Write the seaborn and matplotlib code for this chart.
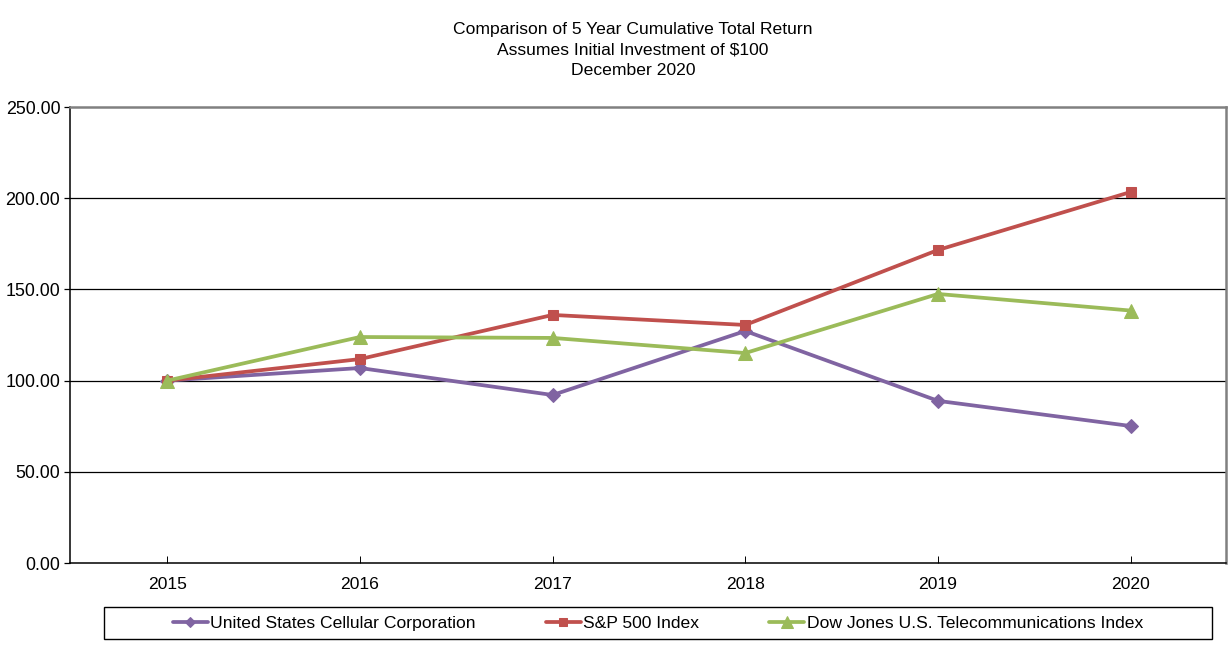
import pandas as pd
import numpy as np
import matplotlib
matplotlib.use("Agg")
import matplotlib.pyplot as plt
import seaborn as sns
from matplotlib.patches import Rectangle

# ------------------------------------------------------------
# data
# ------------------------------------------------------------
years = [2015, 2016, 2017, 2018, 2019, 2020]
usm = [100.00, 106.9, 92.1, 127.2, 88.9, 75.1]
sp500 = [100.00, 111.8, 136.0, 130.5, 171.6, 203.4]
dj_telecom = [100.00, 123.9, 123.4, 115.1, 147.5, 138.4]

series_names = [
    "United States Cellular Corporation",
    "S&P 500 Index",
    "Dow Jones U.S. Telecommunications Index",
]
series_values = [usm, sp500, dj_telecom]
y_ticks = [0, 50, 100, 150, 200, 250]

colors = ["#8064A2", "#C0504D", "#9BBB59"]
markers = ["D", "s", "^"]
marker_sizes = [7, 7.5, 10]

df = pd.concat(
    [pd.DataFrame({"year": years, "value": vals, "series": name})
     for name, vals in zip(series_names, series_values)],
    ignore_index=True,
)

# ------------------------------------------------------------
# figure
# ------------------------------------------------------------
sns.set_style("white")
plt.rcParams["font.family"] = ["Liberation Sans", "DejaVu Sans"]
plt.rcParams["text.color"] = "black"
plt.rcParams["xtick.color"] = "black"
plt.rcParams["ytick.color"] = "black"
FS = 12.6

fig = plt.figure(figsize=(12.31, 6.56), dpi=100)
ax = fig.add_axes([70 / 1231, 93 / 656, 1156 / 1231, 456 / 656])

for name, col, mk, ms in zip(series_names, colors, markers, marker_sizes):
    sub = df[df["series"] == name]
    sns.lineplot(data=sub, x="year", y="value", ax=ax, color=col,
                 marker=mk, markersize=ms, markeredgecolor=col,
                 linewidth=2.7, label=name, legend=False, zorder=3)

ax.set_xlim(years[0] - 0.505, years[-1] + 0.495)
ax.set_ylim(y_ticks[0], y_ticks[-1])
ax.set_xticks(years)
ax.set_xticklabels([str(y) for y in years], fontsize=FS)
ax.set_yticks(y_ticks)
ax.set_yticklabels([f"{v:.2f}" for v in y_ticks], fontsize=12.9)
ax.set_xlabel("")
ax.set_ylabel("")

# horizontal gridlines
for v in y_ticks[1:-1]:
    ax.axhline(v, color="black", linewidth=0.9, zorder=1)

ax.tick_params(axis="y", direction="out", length=4, width=0.9, pad=3, left=True)
ax.tick_params(axis="x", direction="in", length=5, width=0.7, pad=10, bottom=True)

for side in ["left", "bottom"]:
    ax.spines[side].set_color("black")
    ax.spines[side].set_linewidth(1.1)
for side in ["top", "right"]:
    ax.spines[side].set_color("#808080")
    ax.spines[side].set_linewidth(1.8)

fig.text(633 / 1231, 1 - 50 / 656,
         "Comparison of 5 Year Cumulative Total Return\n"
         "Assumes Initial Investment of $100\n"
         "December 2020",
         ha="center", va="center", fontsize=FS, linespacing=1.42,
         color="black")

# legend with a rectangular box underneath
handles, labels = ax.get_legend_handles_labels()
leg = fig.legend(handles, labels, loc="center",
                 bbox_to_anchor=(658 / 1231, 1 - 623 / 656),
                 ncol=3, frameon=False, fontsize=FS, handlelength=2.0,
                 handletextpad=0.15, columnspacing=4.0, markerscale=0.8)
for t in leg.get_texts():
    t.set_color("black")
fig.patches.append(Rectangle((104 / 1231, 17 / 656), 1108 / 1231, 32 / 656,
                             transform=fig.transFigure, fill=False,
                             edgecolor="black", linewidth=1.0))

fig.savefig("out.png", dpi=100)
